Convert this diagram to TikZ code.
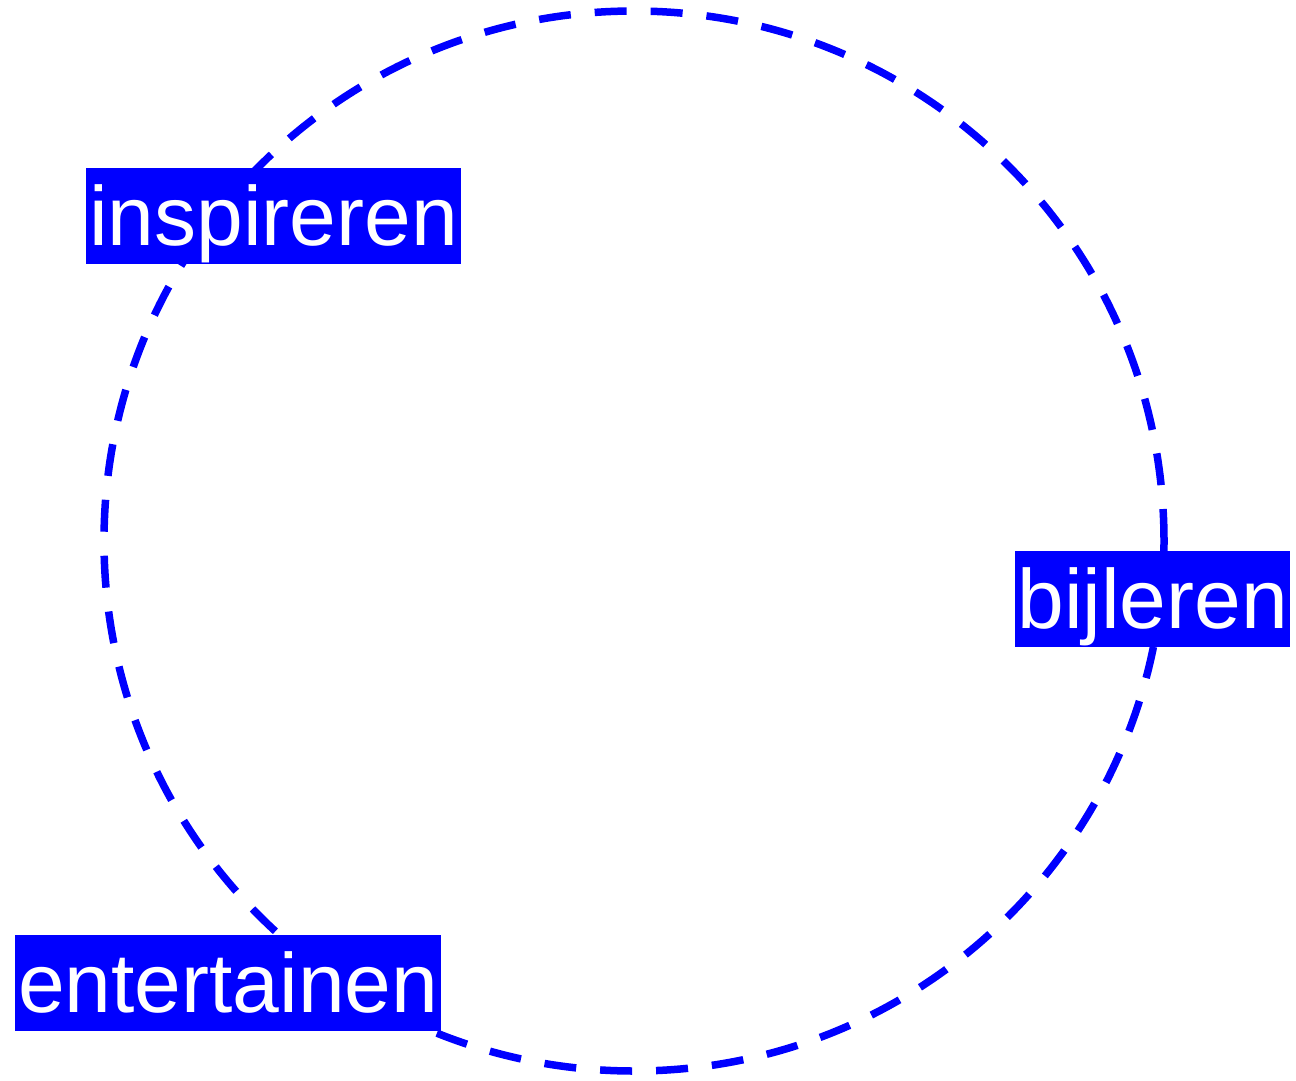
\documentclass[tikz,border=0pt]{standalone}
\usepackage{fontspec}
\setmainfont{Liberation Sans}
\definecolor{pureblue}{RGB}{0,0,255}
\tikzset{
  ring/.style={draw=pureblue, line width=7.5pt, dash pattern=on 32pt off 24pt},
  lbl/.style={fill=pureblue, text=white, inner sep=0pt, text height=77pt, text depth=19pt,
    font=\fontsize{84}{90}\selectfont, anchor=north west, minimum height=96pt}
}
\begin{document}
\begin{tikzpicture}[x=1pt,y=-1pt]
\useasboundingbox (0,0) rectangle (1296,1081);
\coordinate (c) at (634,541);
\draw[ring] (c) circle[radius=530pt];
\node[lbl, minimum width=375pt] (insp) at (86,168) {inspireren};
\node[lbl, minimum width=275pt] (bij) at (1015,551) {bijleren};
\node[lbl, minimum width=426pt] (ent) at (15,935) {entertainen};
\end{tikzpicture}
\end{document}
